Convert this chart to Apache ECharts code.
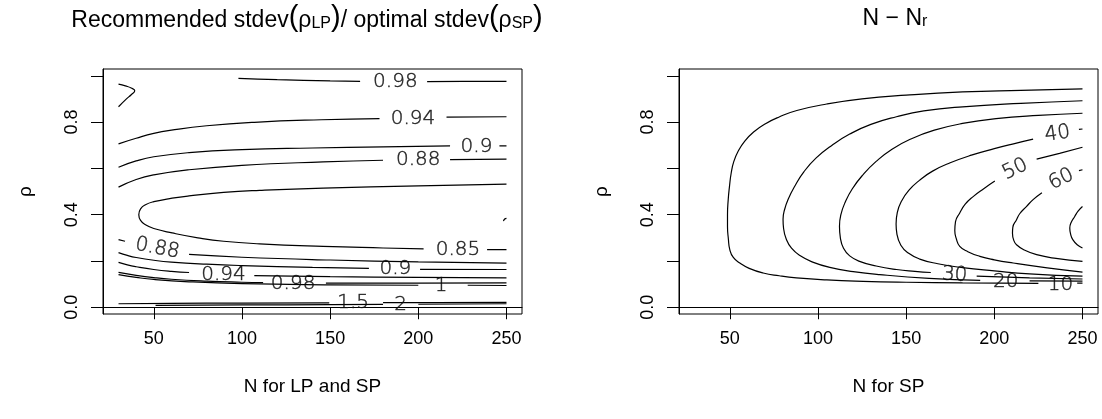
<!DOCTYPE html>
<html>
<head>
<meta charset="utf-8">
<script src="https://cdn.jsdelivr.net/npm/echarts@6/dist/echarts.min.js"></script>
<style>
html,body{margin:0;padding:0;background:#fff;}
#chart{width:1102px;height:419px;}
</style>
</head>
<body>
<div id="chart"></div>
<script>
// ---------- ticks ----------
const xTicks = [50, 100, 150, 200, 250];
const yTicks = [0, 0.2, 0.4, 0.6, 0.8, 1.0];
const yTickLabels = [0, 0.4, 0.8];

// ---------- Left panel: Recommended stdev(rho_LP)/optimal stdev(rho_SP) ----------
// each contour = list of segments ([N, rho] points); gaps are where labels sit
const lp098Top = [
  [[98,0.989],[120,0.983],[150,0.978],[167,0.976]],
  [[205,0.975],[225,0.976],[250,0.976]]
];
const lp098Corner = [
  [[30,0.964],[33.9,0.956],[37.2,0.947],[39.2,0.935],[37.2,0.918],[34.5,0.900],[30,0.866]]
];
const lp094Up = [
  [[30,0.706],[40,0.730],[50,0.751],[60,0.765],[80,0.784],[107,0.799],[145,0.810],[178,0.815]],
  [[216,0.821],[250,0.823]]
];
const lp090Up = [
  [[30,0.605],[40,0.632],[50,0.650],[70,0.668],[100,0.681],[140,0.688],[180,0.693],[218,0.697]],
  [[246,0.697],[250,0.697]]
];
const lp088Up = [
  [[30,0.519],[40,0.552],[50,0.572],[70,0.594],[100,0.613],[146,0.628],[180,0.635]],
  [[218,0.638],[250,0.640]]
];
const lp085Loop = [
  [[250,0.532],[200,0.524],[146,0.515],[110,0.505],[89.6,0.496],[70,0.481],[60.4,0.471],[50,0.456],[45.3,0.443],[42.5,0.425],[41.5,0.400],[42.5,0.375],[45.3,0.356],[50,0.340],[60.4,0.321],[75,0.300],[89.6,0.285],[110,0.274],[146,0.263],[180,0.256],[203,0.252]],
  [[239,0.249],[250,0.249]]
];
const lp085Tiny = [
  [[248.3,0.372],[249,0.381],[250,0.384]]
];
const lp088Low = [
  [[30,0.292],[33.7,0.285]],
  [[70,0.228],[100,0.216],[150,0.204],[200,0.196],[250,0.191]]
];
const lp090Low = [
  [[30,0.236],[35,0.224],[40,0.215],[50,0.203],[60,0.195],[80,0.186],[100,0.180],[140,0.172],[172,0.168]],
  [[201,0.164],[250,0.163]]
];
const lp094Low = [
  [[30,0.194],[35,0.183],[40,0.175],[50,0.163],[60,0.155],[70,0.150]],
  [[107,0.137],[150,0.132],[200,0.129],[250,0.127]]
];
const lp098Low = [
  [[30,0.151],[40,0.138],[50,0.128],[60,0.121],[80,0.113],[100,0.108],[112,0.106]],
  [[147.6,0.104],[200,0.104],[250,0.105]]
];
const lp100 = [
  [[30,0.141],[40,0.129],[50,0.120],[70,0.110],[100,0.102],[150,0.097],[200,0.095]],
  [[228,0.095],[250,0.094]]
];
const lp150 = [
  [[30,0.015],[60,0.017],[100,0.018],[149.5,0.019]],
  [[180,0.020],[210,0.020],[250,0.021]]
];
const lp200 = [
  [[51,0.008],[100,0.010],[150,0.011],[180,0.012]],
  [[200,0.013],[250,0.015]]
];
const lpContours = [lp098Top, lp098Corner, lp094Up, lp090Up, lp088Up, lp085Loop, lp085Tiny,
                    lp088Low, lp090Low, lp094Low, lp098Low, lp100, lp150, lp200];

const lpLabelText = ['0.98','0.94','0.9','0.88','0.85','0.88','0.94','0.98','0.9','1','1.5','2'];
const lpLabelN    = [187, 197, 233, 200, 222.5, 52, 89.5, 129, 187, 213, 163, 190];
const lpLabelRho  = [0.972, 0.815, 0.692, 0.636, 0.250, 0.254, 0.142, 0.100, 0.165, 0.091, 0.020, 0.009];

// ---------- Right panel: N - N_r ----------
const sp10 = [
  [[250,0.943],[215,0.937],[182,0.930],[150,0.916],[125,0.900],[105,0.878],[88,0.850],[78,0.822],[70,0.792],[63.5,0.757],[58.5,0.718],[54.8,0.675],[52.3,0.630],[50.8,0.580],[49.8,0.520],[49.1,0.464],[48.7,0.400],[48.7,0.349],[49.2,0.295],[50,0.249],[52,0.215],[55.7,0.191],[61,0.168],[68.9,0.148],[78,0.136],[87.8,0.127],[105,0.118],[125.6,0.112],[150,0.108],[182,0.105],[225,0.103]],
  [[247,0.104],[250,0.104]]
];
const sp20 = [
  [[250,0.892],[215,0.881],[182,0.866],[160,0.848],[144.5,0.823],[130,0.790],[118,0.748],[108,0.700],[99,0.645],[92,0.585],[87,0.525],[83.3,0.470],[81,0.420],[80.2,0.380],[80.5,0.340],[82,0.295],[85,0.255],[90,0.222],[97,0.195],[106.7,0.172],[120,0.154],[135,0.141],[163,0.125],[192,0.116]],
  [[220,0.114],[250,0.113]]
];
const sp30 = [
  [[250,0.838],[225,0.829],[201,0.815],[182,0.794],[166,0.765],[153,0.728],[142,0.683],[133,0.630],[125.5,0.572],[119.5,0.512],[115.5,0.455],[113,0.400],[112.2,0.350],[112.7,0.300],[114.5,0.255],[118,0.222],[124,0.197],[133,0.178],[144.5,0.163],[155,0.155],[164,0.150]],
  [[190,0.134],[220,0.127],[250,0.122]]
];
const sp40 = [
  [[248,0.768],[250,0.770]],
  [[222,0.726],[212,0.708],[200,0.685],[187,0.657],[175,0.624],[165,0.588],[157.5,0.548],[151.5,0.505],[147.5,0.460],[145,0.410],[144.3,0.360],[144.8,0.315],[147,0.268],[151,0.235],[157.7,0.208],[168,0.188],[182,0.171],[200,0.157],[220,0.144],[250,0.134]]
];
const sp50 = [
  [[250,0.691],[237,0.665],[224,0.640]],
  [[200.3,0.545],[194,0.512],[188,0.478],[183.5,0.445],[180.4,0.407],[178,0.370],[177.6,0.330],[178.5,0.295],[180.4,0.263],[185,0.240],[191.8,0.220],[200,0.205],[210.7,0.191],[230,0.170],[250,0.152]]
];
const sp60 = [
  [[248,0.590],[250,0.594]],
  [[227,0.495],[222,0.465],[218.2,0.435],[214.5,0.405],[212.6,0.378],[210.5,0.345],[210.3,0.320],[211,0.290],[212.6,0.270],[217,0.247],[224,0.227],[235,0.211],[250,0.198]]
];
const sp70 = [
  [[250,0.435],[247.5,0.415],[245.6,0.392],[243.5,0.365],[242.8,0.342],[243.3,0.315],[244.5,0.292],[247,0.270],[250,0.256]]
];
const spContours = [sp10, sp20, sp30, sp40, sp50, sp60, sp70];

const spLabelText = ['10','20','30','40','50','60'];
const spLabelN    = [237.5, 206.5, 177.5, 235.8, 211.8, 238];
const spLabelRho  = [0.099, 0.110, 0.139, 0.749, 0.596, 0.553];

// ---------- styling (not data) ----------
const lpLabelRotate = [0, 0, 0, 0, 0, -11, 0, 0, 0, 0, 0, 0];
const spLabelRotate = [0, 0, -3, 8, 26, 26];
const FONT = '"Liberation Sans", Arial, sans-serif';
const LINE = {color:'#000', width:1.2};

function contourSeries(contours, idx) {
  const out = [];
  contours.forEach(c => c.forEach(seg => {
    out.push({
      type:'line', xAxisIndex:idx, yAxisIndex:idx, data:seg,
      showSymbol:false, symbol:'none', smooth:0.5, silent:true,
      lineStyle:LINE, z:2
    });
  }));
  return out;
}
function labelSeries(texts, ns, rhos, rots, idx) {
  return {
    type:'scatter', xAxisIndex:idx, yAxisIndex:idx, symbolSize:2, silent:true,
    itemStyle:{color:'rgba(0,0,0,0)'}, z:3,
    data: texts.map((t,i)=>({name:t, value:[ns[i], rhos[i]],
      label:{rotate:rots[i]}})),
    label:{show:true, position:'inside', formatter:p=>p.name,
      fontFamily:'"DejaVu Sans", sans-serif', fontWeight:200, fontSize:20, color:'#000',
      textBorderColor:'#222', textBorderWidth:0.5,
      align:'center', verticalAlign:'middle'}
  };
}

function xAxisCfg(idx, name) {
  return {
    type:'value', gridIndex:idx, min:21.2, max:258.8,
    name:name, nameLocation:'middle', nameGap:63,
    nameTextStyle:{fontFamily:FONT, fontSize:19, color:'#000'},
    axisLine:{show:true, lineStyle:{color:'#000', width:1}},
    axisTick:{show:true, length:12, customValues:xTicks, lineStyle:{color:'#000', width:1}},
    axisLabel:{show:true, customValues:xTicks, margin:16, fontFamily:FONT, fontSize:18, color:'#000'},
    splitLine:{show:false}
  };
}
function yAxisCfg(idx) {
  return {
    type:'value', gridIndex:idx, min:-0.0292, max:1.0292,
    name:'ρ', nameLocation:'middle', nameGap:68, nameRotate:90,
    nameTextStyle:{fontFamily:FONT, fontSize:19, color:'#000'},
    axisLine:{show:true, lineStyle:{color:'#000', width:1}},
    axisTick:{show:true, length:12, customValues:yTicks, lineStyle:{color:'#000', width:1}},
    axisLabel:{show:true, customValues:yTickLabels, rotate:90, margin:22,
      formatter:v=>Number(v).toFixed(1), fontFamily:FONT, fontSize:18, color:'#000'},
    splitLine:{show:false}
  };
}

const richBase = {
  a:{fontFamily:FONT, fontSize:23, fontWeight:'normal', color:'#000', lineHeight:28, verticalAlign:'bottom'},
  g:{fontFamily:FONT, fontSize:23, fontWeight:'normal', color:'#000', lineHeight:28, verticalAlign:'bottom'},
  p:{fontFamily:FONT, fontSize:29, fontWeight:'normal', color:'#000', lineHeight:30, verticalAlign:'bottom'},
  s:{fontFamily:FONT, fontSize:16, fontWeight:'normal', color:'#000', lineHeight:10, verticalAlign:'bottom'}
};

const chart = echarts.init(document.getElementById('chart'), null, {renderer:'canvas'});
chart.setOption({
  animation:false,
  backgroundColor:'#fff',
  title:[
    {text:'{a|Recommended stdev}{p|(}{g|ρ}{s|LP}{p|)}{a|/ optimal stdev}{p|(}{g|ρ}{s|SP}{p|)}',
     left:302, top:-3, textAlign:'center', textStyle:{fontWeight:'normal', rich:richBase}},
    {text:'{a|N − N}{s|r}', left:890, top:-3, textAlign:'center', textStyle:{fontWeight:'normal', rich:richBase}}
  ],
  grid:[
    {left:103, top:69, width:419, height:245, show:true, borderColor:'#000', borderWidth:1, backgroundColor:'transparent'},
    {left:679, top:69, width:419, height:245, show:true, borderColor:'#000', borderWidth:1, backgroundColor:'transparent'}
  ],
  xAxis:[xAxisCfg(0,'N for LP and SP'), xAxisCfg(1,'N for SP')],
  yAxis:[yAxisCfg(0), yAxisCfg(1)],
  series:[
    ...contourSeries(lpContours, 0),
    ...contourSeries(spContours, 1),
    labelSeries(lpLabelText, lpLabelN, lpLabelRho, lpLabelRotate, 0),
    labelSeries(spLabelText, spLabelN, spLabelRho, spLabelRotate, 1)
  ]
});
</script>
</body>
</html>
